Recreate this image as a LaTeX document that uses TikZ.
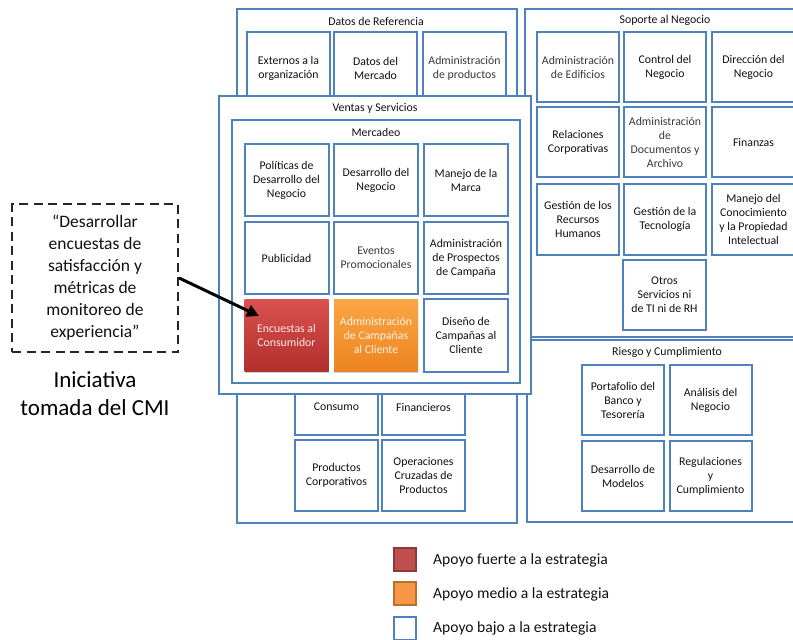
\documentclass[tikz,border=0pt]{standalone}
\usepackage{fontspec}
\setmainfont{Carlito}
\usetikzlibrary{arrows.meta,shadows}
\definecolor{bblue}{HTML}{4F81BD}
\definecolor{txt}{HTML}{111111}
\definecolor{txtlight}{HTML}{3A3A3A}
\definecolor{redtop}{HTML}{DA524F}
\definecolor{redbot}{HTML}{B02F2C}
\definecolor{orgtop}{HTML}{FBA646}
\definecolor{orgbot}{HTML}{EC8420}
\definecolor{legred}{HTML}{C0504D}
\definecolor{legredb}{HTML}{8C3A38}
\definecolor{legorg}{HTML}{F79646}
\definecolor{legorgb}{HTML}{B8702F}
\begin{document}
\begin{tikzpicture}[x=1pt,y=-1pt,
  frame/.style={draw=bblue, line width=2pt, fill=white, inner sep=0pt},
  ftitle/.style={font=\fontsize{11.8}{14}\selectfont, text=txt, inner sep=0pt},
  cell/.style={draw=bblue, line width=2pt, fill=white, inner sep=0pt,
    minimum width=83pt, minimum height=71pt, align=center,
    font=\fontsize{11.8}{14}\selectfont, text=txt},
  lite/.style={text=txtlight},
  ctext/.style={inner sep=0pt, align=center, font=\fontsize{11.8}{14}\selectfont, text=txt},
  hot/.style={draw=none, top color=redtop, bottom color=redbot, text=red!8!white,
    drop shadow={shadow xshift=0pt, shadow yshift=-2pt, opacity=0.35}},
  warm/.style={draw=none, top color=orgtop, bottom color=orgbot, text=orange!10!white,
    drop shadow={shadow xshift=0pt, shadow yshift=-2pt, opacity=0.35}},
  legbox/.style={line width=2pt, minimum width=22pt, minimum height=23pt, inner sep=0pt},
  legtext/.style={anchor=west, inner sep=0pt, font=\fontsize{15.6}{18}\selectfont, text=txt}
]
\useasboundingbox (0,0) rectangle (793,640);
\clip (0,0) rectangle (793,640);

% ---- Datos de Referencia (background column) ----
\node[frame, minimum width=280pt, minimum height=514pt] (datos) at (377,266) {};
\node[ftitle] (datosT) at (376,21) {Datos de Referencia};
\node[cell, minimum height=72pt] (ext) at (288.5,68) {Externos a la\\organización};
\node[cell, minimum height=72pt] (dme) at (375.5,68) {Datos del\\Mercado};
\node[cell, minimum height=72pt, lite] (apr) at (464.5,68) {Administración\\de productos};

\node[cell, minimum height=72pt] (cons) at (336.5,399) {};
\node[ctext] (consT) at (336.5,407) {Consumo};
\node[cell, minimum height=72pt] (fin) at (423.5,399) {};
\node[ctext] (finT) at (423.5,407) {Financieros};
\node[cell] (pcor) at (336.5,475.5) {Productos\\Corporativos};
\node[cell] (ocru) at (423.5,475.5) {Operaciones\\Cruzadas de\\Productos};

% ---- Soporte al Negocio ----
\node[frame, minimum width=280pt, minimum height=328pt] (sop) at (665,173) {};
\node[ftitle] (sopT) at (665,20) {Soporte al Negocio};
\node[cell, minimum width=82pt, minimum height=70pt, lite] (aed) at (578,67) {Administración\\de Edificios};
\node[cell, minimum width=82pt, minimum height=70pt] (cne) at (665,67) {Control del\\Negocio};
\node[cell, minimum height=70pt] (dne) at (753.5,67) {Dirección del\\Negocio};
\node[cell, minimum width=82pt, minimum height=70pt] (rco) at (578,142) {Relaciones\\Corporativas};
\node[cell, minimum width=82pt, minimum height=70pt, lite] (ado) at (665,142) {Administración\\de\\Documentos y\\Archivo};
\node[cell, minimum height=70pt] (fza) at (753.5,142) {Finanzas};
\node[cell, minimum width=82pt] (grh) at (578,219.5) {Gestión de los\\Recursos\\Humanos};
\node[cell, minimum width=82pt] (gte) at (665,219.5) {Gestión de la\\Tecnología};
\node[cell] (mco) at (753.5,219.5) {Manejo del\\Conocimiento\\y la Propiedad\\Intelectual};
\node[cell, minimum width=83pt, minimum height=70pt] (otr) at (664.5,295) {Otros\\Servicios ni\\de TI ni de RH};

% ---- Riesgo y Cumplimiento ----
\node[frame, minimum width=280pt, minimum height=182pt] (rie) at (667,431) {};
\node[ftitle] (rieT) at (667,352) {Riesgo y Cumplimiento};
\node[cell, minimum width=82pt, minimum height=70pt] (pbt) at (623,400) {Portafolio del\\Banco y\\Tesorería};
\node[cell, minimum width=82pt, minimum height=70pt] (ane) at (710.5,400) {Análisis del\\Negocio};
\node[cell, minimum width=82pt, minimum height=70pt] (dmo) at (623,476) {Desarrollo de\\Modelos};
\node[cell, minimum width=82pt, minimum height=70pt] (rcu) at (710.5,476) {Regulaciones\\y\\Cumplimiento};

% ---- Ventas y Servicios / Mercadeo ----
\node[frame, minimum width=312pt, minimum height=298pt] (ven) at (375,245) {};
\node[ftitle] (venT) at (375,108) {Ventas y Servicios};
\node[frame, minimum width=288pt, minimum height=263pt] (mer) at (376,251.5) {};
\node[ftitle] (merT) at (376,132) {Mercadeo};

\node[cell, minimum width=84pt, minimum height=72pt] (pdn) at (286.5,180) {Políticas de\\Desarrollo del\\Negocio};
\node[cell, minimum width=84pt, minimum height=72pt] (ddn) at (376,180) {Desarrollo del\\Negocio};
\node[cell, minimum width=84pt, minimum height=72pt] (mma) at (466,180) {Manejo de la\\Marca};
\node[cell, minimum width=84pt, minimum height=72pt] (pub) at (286.5,258) {Publicidad};
\node[cell, minimum width=84pt, minimum height=72pt, lite] (epr) at (376,258) {Eventos\\Promocionales};
\node[cell, minimum width=84pt, minimum height=72pt] (apc) at (466,258) {Administración\\de Prospectos\\de Campaña};
\node[cell, hot, minimum width=84pt, minimum height=72pt] (enc) at (286.5,335) {Encuestas al\\Consumidor};
\node[cell, warm, minimum width=84pt, minimum height=72pt] (acc) at (376,335) {Administración\\de Campañas\\al Cliente};
\node[cell, minimum width=84pt, minimum height=73pt] (dcc) at (466,335.5) {Diseño de\\Campañas al\\Cliente};

% ---- Initiative callout ----
\node[draw=black!85, line width=2.2pt, dash pattern=on 9pt off 5.5pt,
  minimum width=166pt, minimum height=148pt, inner sep=0pt, align=center,
  font=\fontsize{17.5}{22}\selectfont, text=txt] (quote) at (95,278)
  {“Desarrollar\\encuestas de\\satisfacción y\\métricas de\\monitoreo de\\experiencia”};
\node[inner sep=0pt, align=center, font=\fontsize{23}{28}\selectfont, text=black] (ini) at (95,394)
  {Iniciativa\\tomada del CMI};
\coordinate (tip) at (259,316);
\draw[line width=3pt, black, -{Triangle[length=12pt, width=12pt]}] (quote.east) -- (tip);

% ---- Legend ----
\node[legbox, draw=legredb, fill=legred] (lr) at (405,559.5) {};
\node[legtext] (lrT) at (433,560) {Apoyo fuerte a la estrategia};
\node[legbox, draw=legorgb, fill=legorg] (lo) at (405,593.5) {};
\node[legtext] (loT) at (433,594) {Apoyo medio a la estrategia};
\node[legbox, draw=bblue, fill=white] (lb) at (405,628.5) {};
\node[legtext] (lbT) at (433,628) {Apoyo bajo a la estrategia};
\end{tikzpicture}
\end{document}
